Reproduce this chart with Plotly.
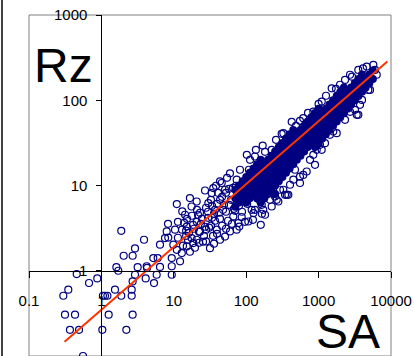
import plotly.graph_objects as go

# ---- axis ticks ----
x_tickvals = [0.1, 1, 10, 100, 1000, 10000]
x_ticktext = ["0.1", "1", "10", "100", "1000", "10000"]
y_tickvals = [0.1, 1, 10, 100, 1000]
y_ticktext = ["0.1", "1", "10", "100", "1000"]

# ---- dense core of the cloud (SA, Rz) ----
core_sa = [
    70.8, 70.8, 70.8,
    79.4, 79.4, 79.4,
    89.1, 89.1, 89.1,
    100, 100, 100, 100,
    112, 112, 112, 112,
    126, 126, 126, 126,
    141, 141, 141, 141,
    158, 158, 158, 158, 158,
    178, 178, 178, 178,
    200, 200, 200, 200,
    224, 224, 224, 224, 224,
    251, 251, 251, 251, 251,
    282, 282, 282, 282, 282,
    316, 316, 316, 316, 316,
    355, 355, 355, 355, 355,
    398, 398, 398, 398, 398,
    447, 447, 447, 447, 447,
    501, 501, 501, 501,
    562, 562, 562, 562,
    631, 631, 631, 631,
    708, 708, 708, 708,
    794, 794, 794, 794,
    891, 891, 891, 891, 891,
    1000, 1000, 1000, 1000, 1000,
    1122, 1122, 1122, 1122,
    1259, 1259, 1259, 1259,
    1413, 1413, 1413, 1413,
    1585, 1585, 1585, 1585,
    1778, 1778, 1778, 1778,
    1995, 1995, 1995, 1995,
    2239, 2239, 2239, 2239,
    2512, 2512, 2512,
    2818, 2818, 2818,
    3162, 3162, 3162,
    3548, 3548, 3548,
    3981, 3981, 3981,
    4467, 4467,
    5012, 5012,
    5623, 5623,
    141, 158, 178, 200, 251,
]
core_rz = [
    5.62, 7.08, 8.91,
    6.31, 7.94, 10.0,
    7.08, 8.91, 11.2,
    6.31, 7.94, 10.0, 12.6,
    7.08, 8.91, 11.2, 14.1,
    7.94, 10.0, 12.6, 15.8,
    8.91, 11.2, 14.1, 17.8,
    7.94, 10.0, 12.6, 15.8, 20.0,
    8.91, 11.2, 14.1, 17.8,
    10.0, 12.6, 15.8, 20.0,
    8.91, 11.2, 14.1, 17.8, 22.4,
    10.0, 12.6, 15.8, 20.0, 25.1,
    11.2, 14.1, 17.8, 22.4, 28.2,
    12.6, 15.8, 20.0, 25.1, 31.6,
    14.1, 17.8, 22.4, 28.2, 35.5,
    15.8, 20.0, 25.1, 31.6, 39.8,
    17.8, 22.4, 28.2, 35.5, 44.7,
    20.0, 25.1, 31.6, 39.8,
    22.4, 28.2, 35.5, 44.7,
    25.1, 31.6, 39.8, 50.1,
    28.2, 35.5, 44.7, 56.2,
    31.6, 39.8, 50.1, 63.1,
    28.2, 35.5, 44.7, 56.2, 70.8,
    31.6, 39.8, 50.1, 63.1, 79.4,
    35.5, 44.7, 56.2, 70.8,
    39.8, 50.1, 63.1, 79.4,
    44.7, 56.2, 70.8, 89.1,
    50.1, 63.1, 79.4, 100,
    56.2, 70.8, 89.1, 112,
    63.1, 79.4, 100, 126,
    70.8, 89.1, 112, 141,
    79.4, 100, 126,
    89.1, 112, 141,
    100, 126, 158,
    112, 141, 178,
    126, 158, 200,
    141, 178,
    158, 200,
    178, 224,
    7.08, 6.31, 7.08, 7.94, 7.94,
]

# ---- individually visible points (SA, Rz) ----
ring_sa = [
    # low, sparse end
    1.88, 3.88, 2.91, 2.03, 2.70, 1.61, 1.71, 3.17, 0.456, 0.877, 0.675, 2.91,
    4.09, 2.70, 0.349, 0.298, 1.05, 1.12, 1.21, 1.54, 1.88, 2.62, 2.62, 0.314,
    0.432, 1.26, 2.70, 0.368, 0.491, 1.03, 2.21, 0.557, 4.27,
    # transition
    4.22, 5.21, 5.99, 5.80, 5.33, 6.45, 7.56, 8.39, 11.0, 12.9, 9.37, 9.37,
    12.2, 15.1, 7.98, 17.6, 18.6, 9.85, 11.0, 13.1, 16.7, 20.7, 17.6, 14.3,
    10.4, 15.1, 20.7, 23.0, 27.0, 31.6, 27.9, 20.7, 43.5, 51.0, 39.2, 27.0,
    33.4, 30.0, 37.1, 43.5, 51.0, 45.9, 59.7, 59.7, 73.9, 77.8, 66.3, 33.7,
    52.6, 23.0, 11.4, 8.32, 6.45, 14.8, 9.37,
    13.9, 14.8, 15.7, 16.7, 17.8, 19.0, 20.9, 22.3, 24.5, 26.1, 29.7, 30.7,
    33.7, 34.8, 37.1, 40.8, 42.1, 46.4, 49.4, 52.6, 56.1, 61.6, 65.7, 67.8,
    38.3, 54.4, 74.6, 79.5, 90.3, 99.3, 109,
    11.4, 13.0, 13.4, 15.2, 16.2, 18.4, 19.6, 21.6, 22.3, 23.7, 25.3, 27.9,
    27.9, 29.7, 32.6, 32.6, 35.9, 35.9, 39.5, 39.5, 43.5, 46.4, 47.9, 52.6,
    57.9, 57.9, 63.6, 70.0, 72.3, 77.0, 87.5, 93.3, 103, 113, 124, 132,
    145, 165, 188, 213,
    # upper edge
    35.1, 73.9, 102, 132, 169, 225, 309, 43.5, 326, 425, 614, 845, 1104, 1517,
    1977, 2716, 3537, 4621, 5700, 6012, 487, 714, 1265, 2317, 182, 258, 82.1,
    113, 136, 553, 1000, 1738, 2894, 4100,
    # lower edge
    159, 278, 382, 344, 182, 225, 119, 86.7, 107, 80.3, 126, 164, 264, 326,
    250, 172, 614, 448, 553, 1104, 1045, 1780, 1436, 3362, 3184, 3733, 5130,
    6349, 845, 1225, 892, 1595, 3537, 4862, 942, 685, 553, 363, 2317, 2716,
    3979, 761, 472, 403, 293, 213, 132, 96.2,
]
ring_rz = [
    2.94, 2.31, 1.83, 1.50, 1.50, 1.10, 1.00, 1.10, 0.915, 0.812, 0.718, 0.898,
    0.812, 0.749, 0.599, 0.509, 0.509, 0.509, 0.509, 0.599, 0.509, 0.509, 0.599, 0.305,
    0.305, 0.305, 0.305, 0.203, 0.203, 0.203, 0.203, 0.100, 1.08,
    1.13, 1.41, 1.41, 0.898, 0.717, 1.11, 2.42, 2.45, 1.76, 1.61, 1.41, 1.13,
    1.29, 1.93, 2.89, 2.42, 2.11, 2.02, 6.05, 4.96, 7.12, 6.49, 5.67, 4.54,
    3.03, 3.30, 3.75, 2.87, 3.28, 1.84, 2.21, 2.31, 2.31, 2.52, 3.03, 8.74,
    8.15, 6.22, 5.19, 6.80, 8.91, 10.7, 13.9, 2.89, 3.03, 3.62, 4.34, 4.18,
    4.92, 4.79, 3.75, 3.55, 2.02, 2.57, 0.898,
    3.65, 2.95, 2.31, 1.67, 4.42, 3.11, 5.19, 2.13, 4.07, 2.57, 4.92, 3.20,
    5.78, 2.57, 3.86, 8.21, 4.79, 3.37, 5.94, 8.21, 3.86, 6.80, 9.40, 5.33,
    9.93, 12.3, 8.21, 5.78, 6.80, 9.93, 15.3,
    2.44, 3.03, 1.97, 4.07, 2.79, 3.46, 1.86, 4.54, 2.87, 3.55, 2.19, 5.48,
    3.03, 4.18, 6.80, 3.37, 4.66, 2.08, 6.10, 2.71, 4.07, 7.37, 5.19, 3.11,
    5.94, 9.15, 3.55, 5.05, 9.93, 6.62, 4.92, 8.21, 6.10, 7.57, 3.96, 9.67,
    6.98, 4.66, 7.78, 9.40,
    9.33, 11.7, 22.9, 21.9, 29.4, 26.2, 40.4, 11.2, 41.1, 55.8, 61.7, 73.7, 96.5, 138,
    152, 199, 227, 248, 260, 227, 50.1, 71.1, 113, 173, 24.8, 34.3, 15.3,
    20.0, 26.2, 57.3, 90.6, 136, 189, 236,
    3.46, 6.49, 7.78, 7.78, 4.54, 5.67, 5.19, 4.27, 3.78, 3.30, 4.75, 5.94, 6.80, 8.91,
    7.43, 5.19, 13.3, 11.7, 10.7, 26.2, 30.0, 41.1, 39.3, 67.4, 77.2, 88.3, 132,
    199, 22.9, 31.4, 17.5, 43.0, 67.4, 132, 26.2, 14.6, 12.7, 7.78, 58.9, 73.2,
    101, 20.0, 15.3, 10.2, 8.91, 6.80, 5.19, 3.75,
]

# ---- fitted power-law line end points ----
fit_sa = [0.31, 8900]
fit_rz = [0.147, 284]

NAVY = "#000080"
FONT = "Arial, Liberation Sans, sans-serif"

fig = go.Figure()
fig.add_trace(go.Scatter(
    x=core_sa, y=core_rz, mode="markers",
    marker=dict(symbol="circle", size=8, color=NAVY, line=dict(width=0)),
    hoverinfo="skip", showlegend=False))
fig.add_trace(go.Scatter(
    x=ring_sa, y=ring_rz, mode="markers",
    marker=dict(symbol="circle-open", size=7, color=NAVY, line=dict(width=1.2, color=NAVY)),
    showlegend=False))
fig.add_trace(go.Scatter(
    x=fit_sa, y=fit_rz, mode="lines",
    line=dict(color="#FF3300", width=2), showlegend=False))

fig.update_layout(
    width=414, height=356,
    margin=dict(l=29, r=23, t=15, b=0, pad=0),
    paper_bgcolor="white", plot_bgcolor="white",
    font=dict(family=FONT, size=15, color="black"),
    xaxis=dict(type="log", range=[-1, 4], anchor="free", position=0.25,
               showline=True, linecolor="black", linewidth=1,
               ticks="outside", ticklen=6, tickcolor="black", tickwidth=1,
               tickvals=x_tickvals, ticktext=x_ticktext,
               showgrid=False, zeroline=False, ticklabelstandoff=10,
               tickfont=dict(family=FONT, size=15, color="black")),
    yaxis=dict(type="log", range=[-1, 3], anchor="free", position=0.2,
               showline=True, linecolor="black", linewidth=1,
               ticks="outside", ticklen=5, tickcolor="black", tickwidth=1,
               tickvals=y_tickvals, ticktext=y_ticktext,
               showgrid=False, zeroline=False, ticklabelstandoff=6,
               tickfont=dict(family=FONT, size=15, color="black")),
    shapes=[
        dict(type="rect", xref="paper", yref="paper", x0=0, x1=1, y0=0, y1=1,
             line=dict(color="#808080", width=1), layer="below"),
        dict(type="line", xref="paper", yref="paper", x0=-0.0746, x1=-0.0746,
             y0=-0.01, y1=1.05, line=dict(color="black", width=1.5)),
    ],
    annotations=[
        dict(text="Rz", xref="paper", yref="paper", x=0.094, y=0.853,
             xanchor="center", yanchor="middle", showarrow=False,
             font=dict(family=FONT, size=48, color="black")),
        dict(text="SA", xref="paper", yref="paper", x=0.881, y=0.072,
             xanchor="center", yanchor="middle", showarrow=False,
             font=dict(family=FONT, size=48, color="black")),
    ],
)

fig.write_html(
    "out.html",
    config={"displayModeBar": False},
    post_script="document.body.style.margin='0';document.body.style.overflow='hidden';",
)
